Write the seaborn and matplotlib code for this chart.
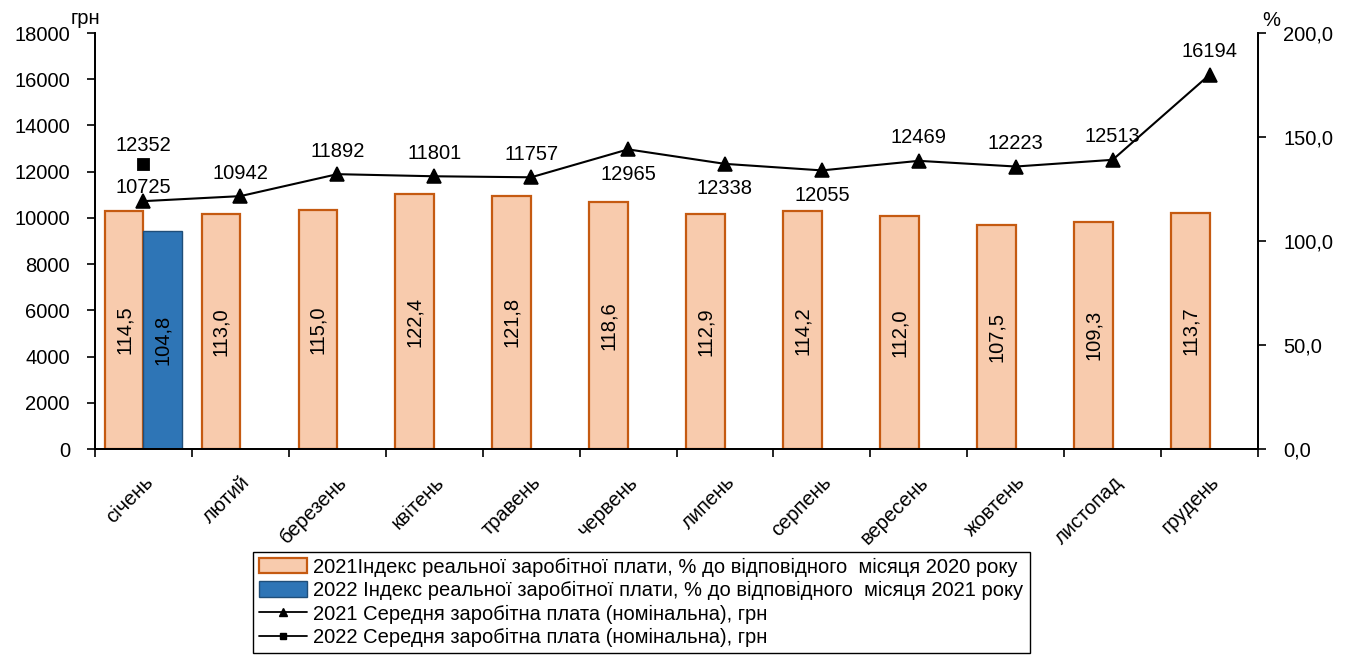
import matplotlib
matplotlib.use("Agg")
import numpy as np
import pandas as pd
import matplotlib.pyplot as plt
import seaborn as sns
from matplotlib.patches import Patch
from matplotlib.lines import Line2D
from matplotlib.ticker import FuncFormatter, FixedLocator

# Data
months = ["січень", "лютий", "березень", "квітень", "травень", "червень",
          "липень", "серпень", "вересень", "жовтень", "листопад", "грудень"]
index_2021 = [114.5, 113.0, 115.0, 122.4, 121.8, 118.6, 112.9, 114.2, 112.0, 107.5, 109.3, 113.7]
index_2022 = [104.8]
salary_2021 = [10725, 10942, 11892, 11801, 11757, 12965, 12338, 12055, 12469, 12223, 12513, 16194]
salary_2022 = [12352]

legend_labels = [
    "2021Індекс реальної заробітної плати, % до відповідного  місяця 2020 року",
    "2022 Індекс реальної заробітної плати, % до відповідного  місяця 2021 року",
    "2021 Середня заробітна плата (номінальна), грн",
    "2022 Середня заробітна плата (номінальна), грн",
]

sns.set_theme(style="ticks", rc={"text.color": "black", "axes.labelcolor": "black",
                                 "xtick.color": "black", "ytick.color": "black",
                                 "axes.edgecolor": "black"})
plt.rcParams["font.family"] = ["Liberation Sans", "DejaVu Sans"]
FS = 14.5

bars = pd.DataFrame({
    "month": months + months[:len(index_2022)],
    "value": index_2021 + index_2022,
    "year": ["2021"] * len(index_2021) + ["2022"] * len(index_2022),
})

fig = plt.figure(figsize=(13.53, 6.55), dpi=100)
ax = fig.add_axes([0.0702, 0.3145, 0.8596, 0.6351])

# bars -> percent scale (right axis)
sns.barplot(data=bars, x="month", y="value", hue="year", order=months,
            hue_order=["2021", "2022"], palette={"2021": "#F8CBAD", "2022": "#2E75B6"},
            width=0.8, ax=ax, legend=False, saturation=1)
edge = {0: ("#C55A11", 1.6), 1: ("#1F4E79", 1.0)}
for i, cont in enumerate(ax.containers):
    for b in cont:
        b.set_edgecolor(edge[i][0])
        b.set_linewidth(edge[i][1])
    labs = [f"{b.get_height():.1f}".replace(".", ",") for b in cont]
    ax.bar_label(cont, labels=labs, label_type="center", rotation=90, fontsize=FS)

ax.set_xlabel("")
ax.set_ylabel("")

# lines -> UAH scale (left axis)
ax2 = ax.twinx()
sns.pointplot(x=months, y=salary_2021, order=months, color="black", markers="^",
              linestyles="-", markersize=10, linewidth=1.5, errorbar=None, ax=ax2)
sns.pointplot(x=months[:len(salary_2022)], y=salary_2022, order=months, color="black",
              markers="s", linestyles="none", markersize=6.5, errorbar=None, ax=ax2)
ax2.set_ylabel("")

# scales (after twinx, which moves the ticks around)
ax.set_ylim(0, 200)
ax.set_yticks([0, 50, 100, 150, 200])
ax.yaxis.set_major_formatter(FuncFormatter(lambda v, p: f"{v:.1f}".replace(".", ",")))
ax.yaxis.tick_right()
ax2.set_ylim(0, 18000)
ax2.set_yticks(range(0, 18001, 2000))
ax2.yaxis.tick_left()
ax.set_xlim(-0.5, len(months) - 0.5)
ax2.set_xlim(-0.5, len(months) - 0.5)

# value labels for the salary lines
below = {"червень", "липень", "серпень"}
for i, (m, v) in enumerate(zip(months, salary_2021)):
    if m in below:
        ax2.annotate(str(v), (i, v), xytext=(0, -11), textcoords="offset points",
                     ha="center", va="top", fontsize=FS)
    else:
        dy = 6 if i == 0 else 12.5
        ax2.annotate(str(v), (i, v), xytext=(0, dy), textcoords="offset points",
                     ha="center", va="baseline", fontsize=FS)
for i, v in enumerate(salary_2022):
    ax2.annotate(str(v), (i, v), xytext=(0, 9), textcoords="offset points",
                 ha="center", va="baseline", fontsize=FS)

# axes styling
for a in (ax, ax2):
    a.spines["top"].set_visible(False)
    for s in ("left", "right", "bottom"):
        a.spines[s].set_linewidth(1.3)
ax.tick_params(axis="y", right=True, left=False, labelright=True, labelleft=False,
               direction="out", length=6, width=1.2, labelsize=FS, pad=12)
ax2.tick_params(axis="y", left=True, right=False, labelleft=True, labelright=False,
                direction="out", length=6, width=1.2, labelsize=FS, pad=12)
ax2.tick_params(axis="x", bottom=False, labelbottom=False)
ax.set_xticks(range(len(months)))
ax.set_xticklabels(months, rotation=45, ha="right", rotation_mode="anchor")
ax.tick_params(axis="x", which="major", length=0, labelsize=FS, pad=17)
ax.xaxis.set_minor_locator(FixedLocator(np.arange(-0.5, len(months), 1.0)))
ax.tick_params(axis="x", which="minor", bottom=True, length=6, width=1.2, direction="out")

fig.text(85 / 1353, 1 - 18 / 655, "грн", ha="center", va="center", fontsize=FS)
fig.text(1271 / 1353, 1 - 20 / 655, "%", ha="center", va="center", fontsize=FS)

handles = [
    Patch(facecolor="#F8CBAD", edgecolor="#C55A11", linewidth=1.6),
    Patch(facecolor="#2E75B6", edgecolor="#1F4E79", linewidth=1.0),
    Line2D([], [], color="black", marker="^", markersize=6, linewidth=1.3),
    Line2D([], [], color="black", marker="s", markersize=5, linewidth=1.3),
]
leg = fig.legend(handles, legend_labels, loc="upper center", bbox_to_anchor=(0.474, 0.158),
                 borderaxespad=0, frameon=True, fancybox=False, edgecolor="black",
                 framealpha=1, fontsize=14.5, handlelength=2.4, handleheight=0.8,
                 labelspacing=0.22, borderpad=0.3, handletextpad=0.3)
leg.get_frame().set_linewidth(1.0)

fig.savefig("out.png", dpi=100)
